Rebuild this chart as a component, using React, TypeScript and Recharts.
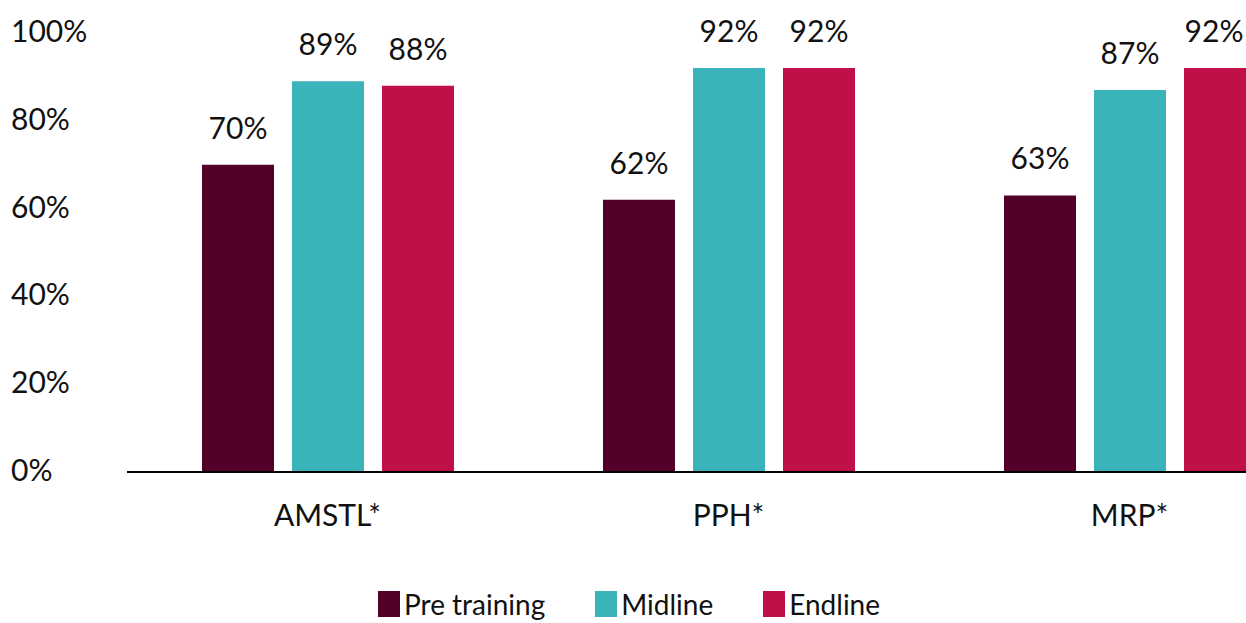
import React from "react";
import { BarChart, Bar, XAxis, YAxis, Legend, LabelList } from "recharts";

const categories = ["AMSTL*", "PPH*", "MRP*"];
const preTraining = [70, 62, 63];
const midline = [89, 92, 87];
const endline = [88, 92, 92];
const yTicks = [0, 20, 40, 60, 80, 100];

const series = [
  { key: "pre", name: "Pre training", color: "#52002A", values: preTraining },
  { key: "mid", name: "Midline", color: "#3AB3BB", values: midline },
  { key: "end", name: "Endline", color: "#C01048", values: endline },
];

const data = categories.map((c, i) => {
  const row: Record<string, string | number> = { name: c };
  series.forEach((s) => {
    row[s.key] = s.values[i];
  });
  return row;
});

const FONT = "Lato, 'Open Sans', sans-serif";
const TEXT = "#111";
const VIEW_W = 1246;

function YTick(props: any) {
  const { y, payload } = props;
  return (
    <text x={11} y={y - 3} textAnchor="start" dominantBaseline="central" fontSize={30} fill={TEXT} fontFamily={FONT}>
      {payload.value}%
    </text>
  );
}

function XTick(props: any) {
  const { x, y, payload } = props;
  return (
    <text x={x} y={y + 46} textAnchor="middle" fontSize={30} fill={TEXT} fontFamily={FONT}>
      {payload.value}
    </text>
  );
}

function ValueLabel(props: any) {
  const { x, y, width, value } = props;
  // keep the last label inside the visible page, like the original
  const cx = Math.min(x + width / 2, VIEW_W - 32);
  return (
    <text x={cx} y={y - 38} textAnchor="middle" dominantBaseline="central" fontSize={30} fill={TEXT} fontFamily={FONT}>
      {value}%
    </text>
  );
}

function LegendContent() {
  return (
    <div style={{ display: "flex", justifyContent: "center", gap: 50, fontFamily: FONT, fontSize: 28, color: TEXT, paddingLeft: 12 }}>
      {series.map((s) => (
        <div key={s.key} style={{ display: "flex", alignItems: "center" }}>
          <span style={{ display: "inline-block", width: 22, height: 26, background: s.color, marginRight: 4 }} />
          <span style={{ lineHeight: "30px" }}>{s.name}</span>
        </div>
      ))}
    </div>
  );
}

export default function App() {
  return (
    <div style={{ position: "absolute", left: 0, top: 0, width: VIEW_W, height: 623, overflow: "hidden", background: "#fff" }}>
      <BarChart
        width={1340}
        height={623}
        data={data}
        margin={{ top: 33, right: 10, bottom: 0, left: 0 }}
        barSize={72}
        barGap={18}
      >
        <XAxis
          dataKey="name"
          tick={<XTick />}
          tickLine={false}
          axisLine={{ stroke: "#000", strokeWidth: 2 }}
          height={151}
          interval={0}
        />
        <YAxis
          domain={[0, 100]}
          ticks={yTicks}
          tick={<YTick />}
          tickLine={false}
          axisLine={false}
          width={127}
        />
        <Legend
          layout="horizontal"
          verticalAlign="middle"
          align="center"
          content={<LegendContent />}
          wrapperStyle={{ position: "absolute", left: 0, top: 589, width: VIEW_W, height: 34 }}
        />
        {series.map((s) => (
          <Bar key={s.key} dataKey={s.key} name={s.name} fill={s.color} isAnimationActive={false}>
            <LabelList dataKey={s.key} content={<ValueLabel />} />
          </Bar>
        ))}
      </BarChart>
    </div>
  );
}
